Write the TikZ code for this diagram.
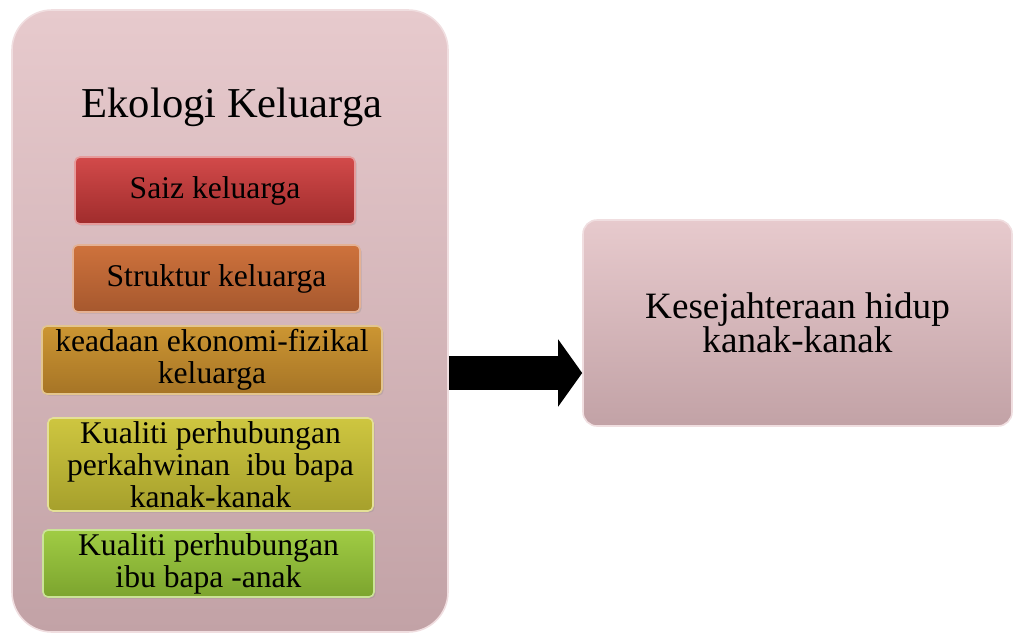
\documentclass[tikz,border=0pt]{standalone}
\usepackage{fontspec}
\setmainfont{Liberation Serif}
\usepackage{xcolor}
\usetikzlibrary{arrows.meta, shadows}

\definecolor{pinktop}{RGB}{231,202,205}
\definecolor{pinkbot}{RGB}{194,162,166}
\definecolor{pinkrim}{RGB}{240,222,224}
\definecolor{redtop}{RGB}{210,74,74}
\definecolor{redbot}{RGB}{160,44,44}
\definecolor{orangetop}{RGB}{206,114,60}
\definecolor{orangebot}{RGB}{166,88,46}
\definecolor{goldtop}{RGB}{204,150,50}
\definecolor{goldbot}{RGB}{166,116,38}
\definecolor{olivetop}{RGB}{206,198,64}
\definecolor{olivebot}{RGB}{166,160,44}
\definecolor{greentop}{RGB}{160,204,68}
\definecolor{greenbot}{RGB}{124,164,46}

\begin{document}
\begin{tikzpicture}[
  x=0.5pt, y=-0.5pt,
  panel/.style={rectangle, draw=pinkrim, line width=0.8pt,
                top color=pinktop, bottom color=pinkbot},
  factor/.style 2 args={rectangle, rounded corners=2.5pt, draw=#1!55!white,
                line width=0.8pt, top color=#1, bottom color=#2,
                drop shadow={opacity=0.25, shadow xshift=0.8pt, shadow yshift=-0.8pt},
                minimum height=33.5pt, inner sep=0pt, align=center,
                font=\fontsize{15.8}{16}\selectfont},
  bigarrow/.style={line width=17pt, black, -{Triangle[length=12pt, width=33pt]}}
]
  \useasboundingbox (0,0) rectangle (1013,633);

  % left panel
  \node[panel, rounded corners=20pt, minimum width=218pt, minimum height=311pt]
    (ekologi) at (230,321) {};
  \node[font=\fontsize{21.3}{24}\selectfont] (judul) at (232,107) {Ekologi Keluarga};

  \node[factor={redtop}{redbot}, minimum width=140pt] (saiz) at (215,190.5) {Saiz keluarga};
  \node[factor={orangetop}{orangebot}, minimum width=143.5pt] (struktur) at (216.5,278.5) {Struktur keluarga};
  \node[factor={goldtop}{goldbot}, minimum width=170pt, minimum height=34pt] (ekonomi) at (212,360)
    {keadaan ekonomi-fizikal\\keluarga};
  \node[factor={olivetop}{olivebot}, minimum width=162.5pt, minimum height=46.5pt] (perkahwinan) at (210.5,464.5)
    {Kualiti perhubungan\\perkahwinan~ ibu bapa\\kanak-kanak};
  \node[factor={greentop}{greenbot}, minimum width=165.5pt] (anak) at (208.5,563.5)
    {Kualiti perhubungan\\ibu bapa -anak};

  % right box
  \node[panel, rounded corners=7pt, minimum width=214.5pt, minimum height=103pt,
        align=center, font=\fontsize{18.6}{17}\selectfont]
    (kesejahteraan) at (797.5,323) {Kesejahteraan hidup\\kanak-kanak};

  % arrow
  \coordinate (pangkal) at ([yshift=-26pt]ekologi.east);
  \draw[bigarrow] (pangkal) -- (pangkal -| kesejahteraan.west);
\end{tikzpicture}
\end{document}
